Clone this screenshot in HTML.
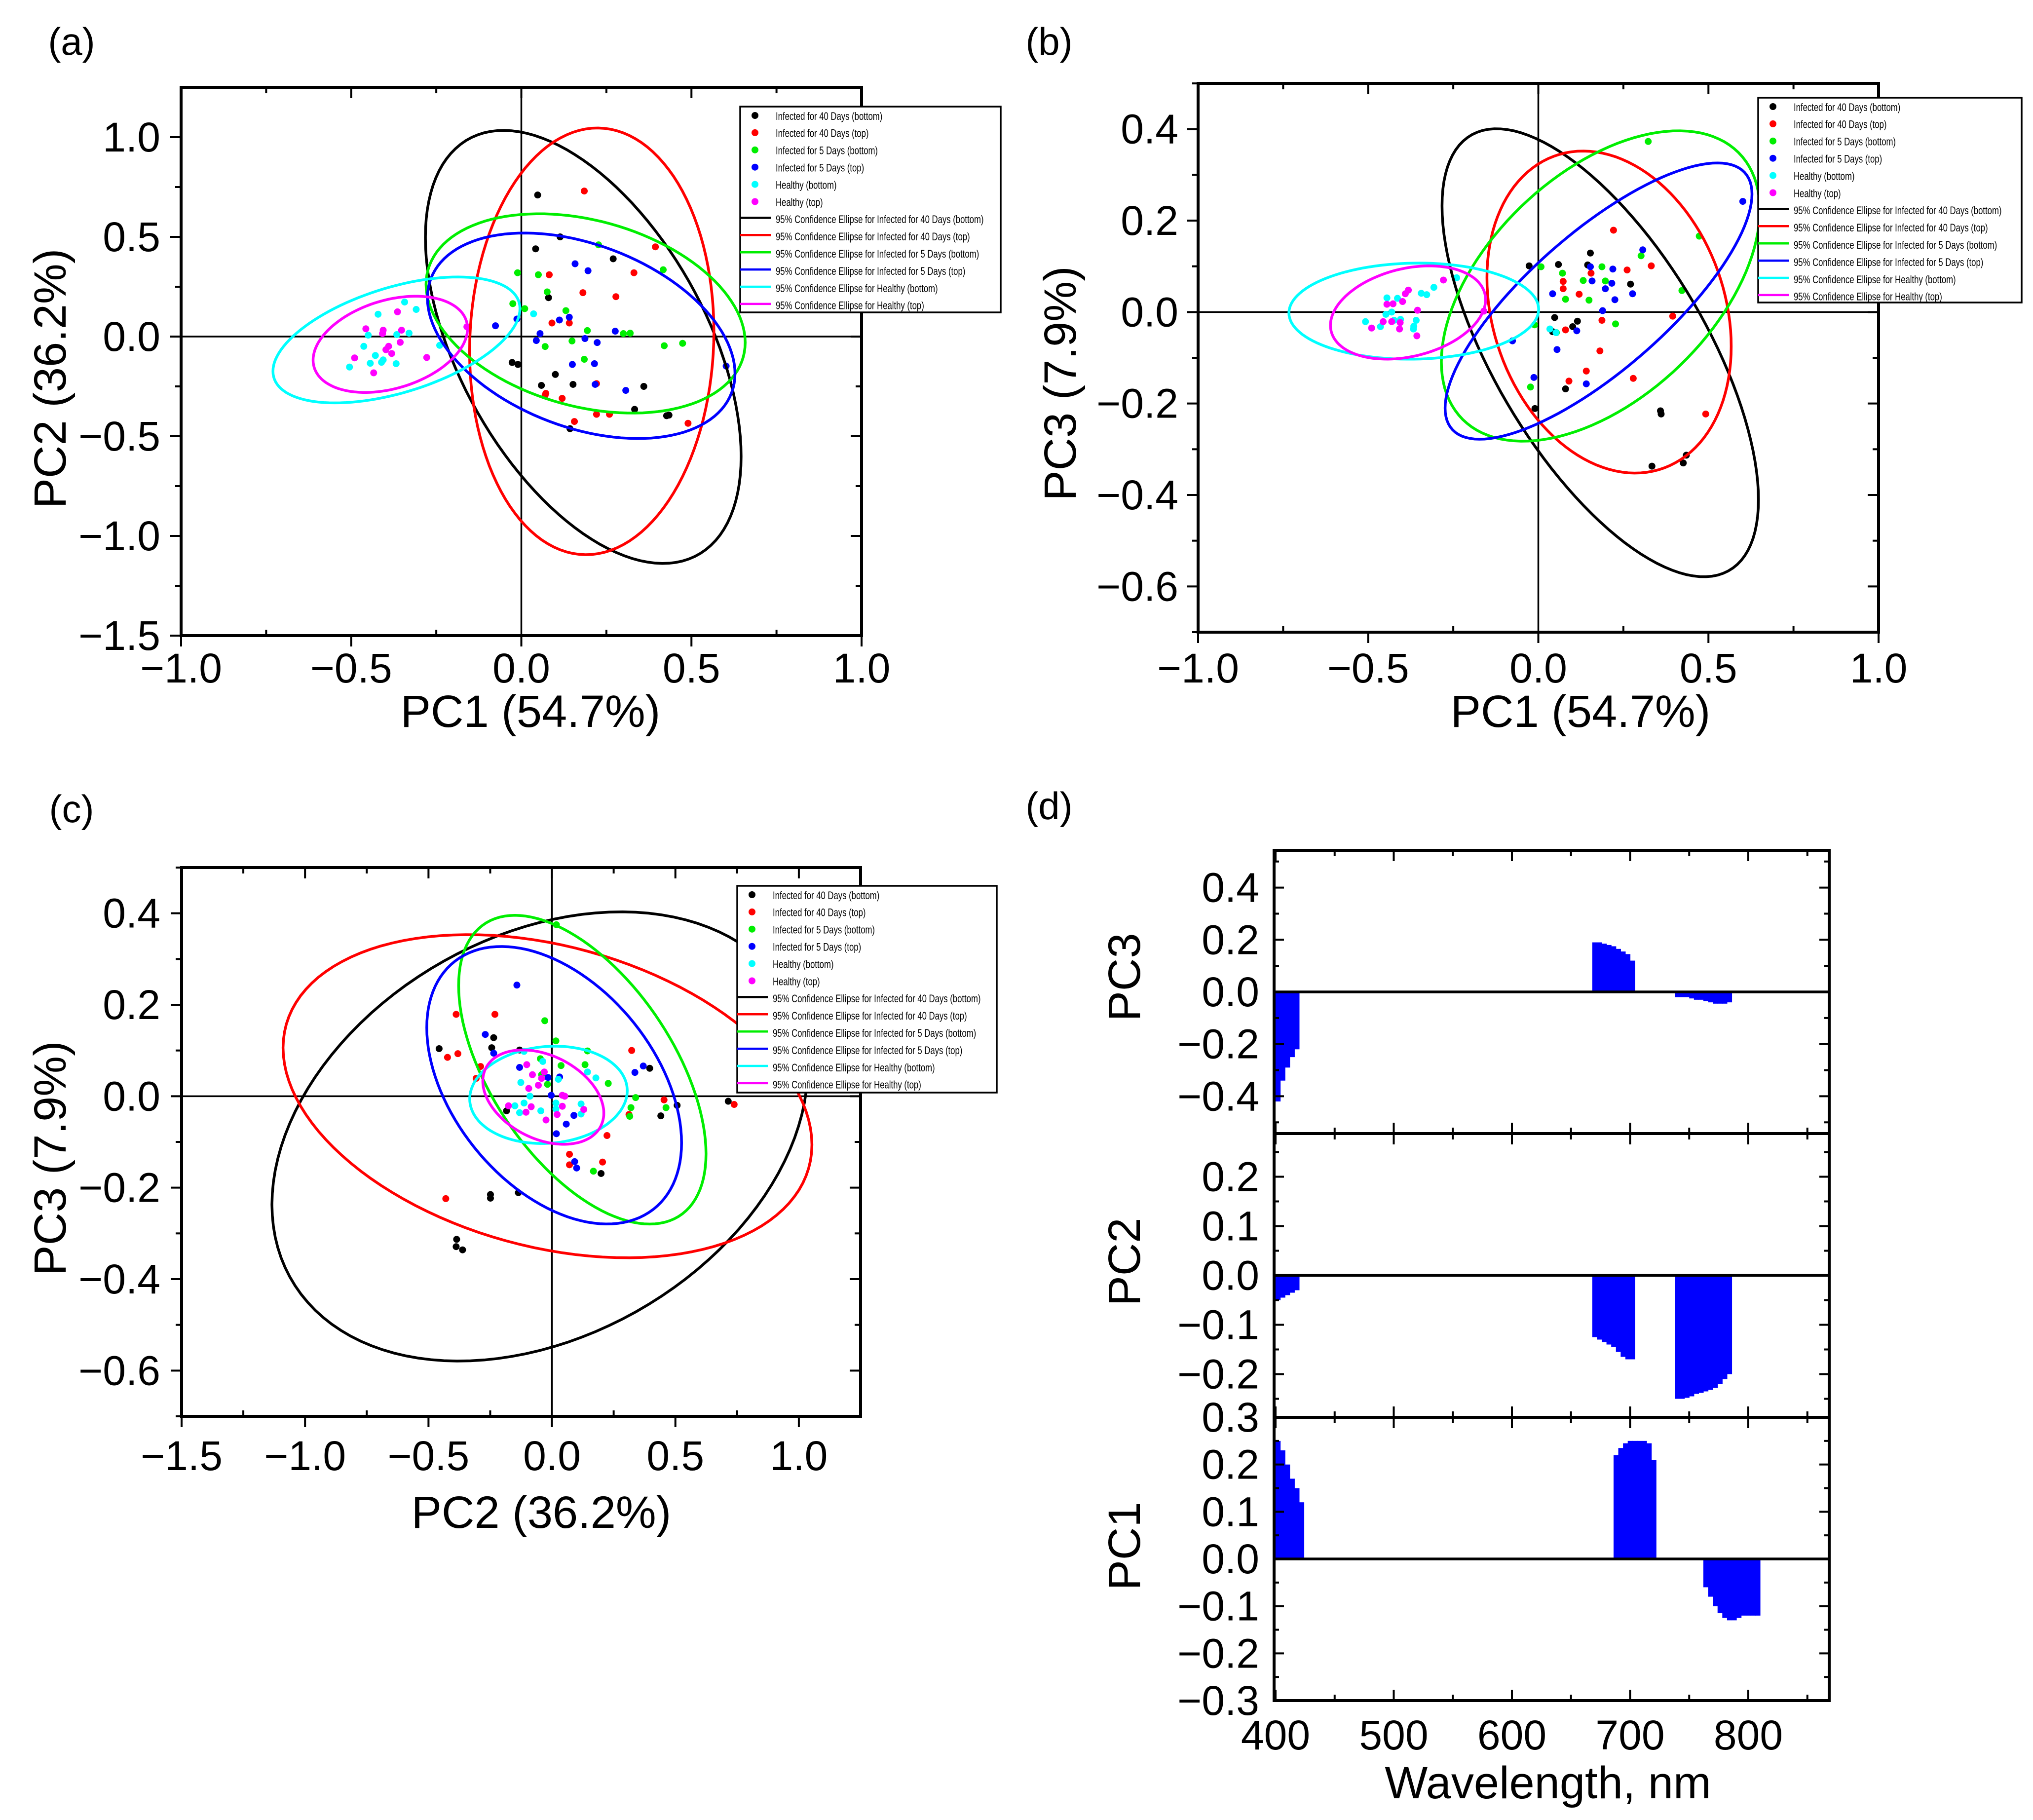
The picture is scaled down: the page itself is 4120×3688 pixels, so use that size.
<!DOCTYPE html>
<html><head><meta charset="utf-8"><title>PCA figure</title>
<style>
html,body{margin:0;padding:0;background:#fff;}
svg{display:block;font-family:"Liberation Sans",Arial,sans-serif;}
</style></head>
<body>
<svg id="fig" xmlns="http://www.w3.org/2000/svg" width="4120" height="3688" viewBox="0 0 4120 3688">
<rect x="0" y="0" width="4120" height="3688" fill="#fff"/>
</svg>
<script>
// ---------- Panel (a): PC1 vs PC2 ----------
const aX_k=[0.048,0.114,0.042,0.27,0.08,-0.027,-0.01,0.10,0.059,0.152,0.36,0.333,0.427,0.434,0.143];
const aY_k=[0.71,0.50,0.44,0.39,0.195,-0.13,-0.14,-0.19,-0.245,-0.24,-0.25,-0.365,-0.397,-0.394,-0.462];
const aX_r=[0.185,0.394,0.331,0.082,0.181,0.278,0.09,0.141,0.221,0.072,0.07,0.12,0.156,0.221,0.259,0.49];
const aY_r=[0.73,0.45,0.32,0.31,0.22,0.20,0.068,0.068,-0.236,-0.285,-0.294,-0.31,-0.426,-0.39,-0.39,-0.435];
const aX_g=[0.227,-0.011,0.05,0.417,0.076,-0.025,0.01,0.131,0.194,0.3,0.32,0.07,0.149,0.42,0.474,0.185];
const aY_g=[0.46,0.32,0.31,0.335,0.224,0.165,0.14,0.13,0.03,0.015,0.017,-0.05,-0.022,-0.046,-0.034,-0.114];
const aX_b=[0.158,0.196,0.112,0.141,-0.076,-0.013,0.055,0.276,0.044,0.187,0.223,0.15,0.215,0.217,0.307,0.602];
const aY_b=[0.365,0.33,0.083,0.097,0.054,0.088,0.015,0.027,-0.02,-0.01,-0.03,-0.14,-0.136,-0.24,-0.27,-0.148];
const aX_c=[-0.343,-0.421,-0.309,0.036,-0.45,-0.33,-0.366,-0.463,-0.24,-0.429,-0.406,-0.411,-0.444,-0.368,-0.505];
const aY_c=[0.173,0.112,0.136,0.114,0.007,0.017,0.01,-0.049,-0.044,-0.095,-0.117,-0.129,-0.134,-0.136,-0.153];
const aX_m=[-0.364,-0.457,-0.406,-0.352,-0.408,-0.356,-0.39,-0.398,-0.381,-0.278,-0.49,-0.434,-0.16];
const aY_m=[0.124,0.039,0.032,0.032,0.015,-0.029,-0.049,-0.066,-0.085,-0.105,-0.107,-0.182,0.049];
const aEllCx=[0.182,0.207,0.189,0.176,-0.367,-0.385];
const aEllCy=[-0.052,-0.024,0.116,0.004,-0.017,-0.039];
const aEllL11=[0.464,0.359,0.469,0.452,0.363,0.227];
const aEllL21=[-0.549,0.05,-0.146,-0.19,0.157,0.079];
const aEllL22=[0.937,1.069,0.478,0.479,0.274,0.228];

// ---------- Panel (b): PC1 vs PC3 ----------
const bX_k=[-0.027,0.059,0.145,0.153,0.271,0.048,0.042,0.101,0.115,0.08,-0.01,0.359,0.361,0.334,0.435,0.426];
const bY_k=[0.101,0.104,0.103,0.129,0.061,-0.012,-0.043,-0.032,-0.02,-0.168,-0.211,-0.216,-0.223,-0.337,-0.313,-0.33];
const bX_r=[0.221,0.261,0.332,0.155,0.073,0.073,0.12,0.395,0.187,0.08,0.181,0.141,0.09,0.279,0.492];
const bY_r=[0.179,0.092,0.101,0.085,0.067,0.051,0.039,-0.009,-0.018,-0.039,-0.085,-0.129,-0.151,-0.145,-0.223];
const bX_g=[0.323,0.473,0.302,0.008,0.071,0.187,0.132,0.197,0.08,0.149,0.422,-0.011,0.053,0.227,-0.023];
const bY_g=[0.373,0.166,0.123,0.099,0.085,0.099,0.069,0.068,0.028,0.026,0.047,-0.028,-0.045,-0.026,-0.164];
const bX_b=[0.601,0.307,0.219,0.153,0.158,0.216,0.197,0.277,0.042,0.225,0.189,0.113,-0.076,0.055,-0.013,0.141];
const bY_b=[0.242,0.136,0.094,0.099,0.068,0.063,0.051,0.04,0.04,0.027,0.003,-0.041,-0.063,-0.082,-0.143,-0.157];
const bX_c=[-0.24,-0.307,-0.344,-0.328,-0.445,-0.414,-0.431,-0.448,-0.405,-0.424,-0.359,-0.508,-0.464,-0.366,-0.367,0.034,0.052];
const bY_c=[0.075,0.054,0.041,0.038,0.031,0.03,0,-0.005,-0.016,-0.018,-0.018,-0.021,-0.032,-0.031,-0.037,-0.037,-0.045];
const bX_m=[-0.279,-0.382,-0.391,-0.399,-0.427,-0.445,-0.355,-0.16,-0.456,-0.431,-0.406,-0.408,-0.49,-0.357];
const bY_m=[0.07,0.048,0.04,0.023,0.018,0.017,0.004,0.002,-0.021,-0.021,-0.023,-0.037,-0.035,-0.052];
const bEllCx=[0.182,0.208,0.183,0.177,-0.366,-0.383];
const bEllCy=[-0.089,0.0,0.057,0.024,0.002,-0.001];
const bEllL11=[0.465,0.359,0.468,0.451,0.367,0.228];
const bEllL21=[-0.321,-0.075,0.166,0.234,0.004,0.028];
const bEllL22=[0.37,0.344,0.296,0.191,0.105,0.098];

// ---------- Panel (c): PC2 vs PC3 ----------
const cX_k=[-0.457,-0.236,-0.244,-0.131,-0.184,0.396,0.507,0.441,0.714,0.199,-0.136,-0.249,-0.249,-0.386,-0.388,-0.362];
const cY_k=[0.104,0.128,0.106,0.101,-0.032,0.061,-0.02,-0.043,-0.011,-0.169,-0.211,-0.215,-0.223,-0.313,-0.329,-0.336];
const cX_r=[-0.388,-0.231,-0.423,-0.381,-0.289,-0.307,0.323,0.454,0.312,0.738,0.223,0.071,0.071,0.205,-0.43];
const cY_r=[0.179,0.179,0.085,0.093,0.065,0.039,0.1,-0.008,-0.04,-0.018,-0.086,-0.127,-0.15,-0.144,-0.224];
const cX_g=[0.018,-0.029,0.016,0.144,0.037,0.134,-0.042,-0.018,0.228,0.339,0.32,0.462,0.315,0.168,-0.047];
const cY_g=[0.375,0.165,0.121,0.099,0.067,0.069,0.047,0.026,0.028,-0.003,-0.025,-0.025,-0.044,-0.164,0.082];
const cX_b=[-0.142,-0.27,-0.236,-0.131,-0.016,0.031,0.336,0.37,-0.003,0.089,0.058,0.018,0.092,0.1];
const cY_b=[0.243,0.135,0.094,0.063,0.041,0.042,0.052,0.066,0.002,-0.042,-0.061,-0.082,-0.143,-0.157];
const cX_c=[-0.113,-0.037,0.026,0.144,0.178,-0.126,-0.089,-0.15,-0.113,0.016,0.118,-0.131,-0.045,0.016,0.118];
const cY_c=[0.098,0.076,0.037,0.053,0.04,0.03,0,-0.021,-0.015,-0.015,-0.017,-0.036,-0.032,-0.028,-0.039];
const cX_m=[-0.102,-0.031,-0.079,-0.094,-0.055,-0.042,0.042,0.052,-0.176,-0.084,0.042,0.129,-0.105,0.021,-0.024];
const cY_m=[0.069,0.053,0.047,0.017,0.024,0.039,0.002,0,-0.021,-0.023,-0.022,-0.029,-0.035,-0.04,-0.052];
const cEllCx=[-0.049,-0.018,0.123,0.009,-0.014,-0.035];
const cEllCy=[-0.088,0.0,0.058,0.024,0.003,-0.002];
const cEllL11=[1.085,1.071,0.501,0.516,0.319,0.245];
const cEllL21=[0.149,-0.106,-0.184,-0.126,0.009,-0.035];
const cEllL22=[0.468,0.337,0.283,0.276,0.106,0.097];

// ---------- Panel (d): loadings ----------
const pc3Wl=[400,404,408,412,416, 668,672,676,680,684,688,692,696,700, 738,742,746,750,754,758,762,766,770,774,778,782];
const pc3Val=[-0.42,-0.34,-0.29,-0.25,-0.22, 0.19,0.19,0.185,0.18,0.175,0.165,0.155,0.145,0.12, -0.02,-0.02,-0.02,-0.025,-0.03,-0.03,-0.035,-0.04,-0.045,-0.045,-0.045,-0.04];
const pc2Wl=[400,404,408,412,416, 668,672,676,680,684,688,692,696,700, 738,742,746,750,754,758,762,766,770,774,778,782];
const pc2Val=[-0.05,-0.045,-0.04,-0.035,-0.03, -0.125,-0.13,-0.135,-0.14,-0.145,-0.155,-0.165,-0.17,-0.17, -0.25,-0.25,-0.248,-0.245,-0.24,-0.238,-0.235,-0.232,-0.228,-0.22,-0.21,-0.2];
const pc1Wl=[400,404,408,412,416,420, 686,690,694,698,702,706,710,714,718, 762,766,770,774,778,782,786,790,794,798,802,806];
const pc1Val=[0.25,0.23,0.2,0.17,0.15,0.12, 0.22,0.235,0.245,0.25,0.25,0.25,0.25,0.245,0.21, -0.06,-0.08,-0.1,-0.115,-0.125,-0.13,-0.13,-0.125,-0.12,-0.12,-0.12,-0.12];
const binWidth=4;

const groupColors=['#000000','#ff0000','#00ee00','#0000ff','#00ffff','#ff00ff'];
const legendLabels=['Infected for 40 Days (bottom)','Infected for 40 Days (top)','Infected for 5 Days (bottom)','Infected for 5 Days (top)','Healthy (bottom)','Healthy (top)',
'95% Confidence Ellipse for Infected for 40 Days (bottom)','95% Confidence Ellipse for Infected for 40 Days (top)','95% Confidence Ellipse for Infected for 5 Days (bottom)','95% Confidence Ellipse for Infected for 5 Days (top)','95% Confidence Ellipse for Healthy (bottom)','95% Confidence Ellipse for Healthy (top)'];
const groupKeys=['k','r','g','b','c','m'];

const NS='http://www.w3.org/2000/svg';
const svg=document.getElementById('fig');
function el(tag,attrs,parent){const e=document.createElementNS(NS,tag);for(const k in attrs)e.setAttribute(k,attrs[k]);(parent||svg).appendChild(e);return e;}
function fmt(v,d){const s=Math.abs(v).toFixed(d);return (v<-1e-9?'\u2212':'')+s;}

function scatterPanel(p){
  const g=el('g',{});
  
  
  const sx=v=>p.x0+(v-p.xmin)/(p.xmax-p.xmin)*(p.x1-p.x0);
  const sy=v=>p.y1-(v-p.ymin)/(p.ymax-p.ymin)*(p.y1-p.y0);
  const zx=el('line',{x1:sx(0),x2:sx(0),y1:p.y0,y2:p.y1,stroke:'#000','stroke-width':3.5},g);
  
  
  const zy=el('line',{x1:p.x0,x2:p.x1,y1:sy(0),y2:sy(0),stroke:'#000','stroke-width':3.5},g);
  
  
  for(let gi=0;gi<6;gi++){
    const xs=p.xs[gi],ys=p.ys[gi];
    for(let i=0;i<xs.length;i++){
      const c=el('circle',{cx:sx(xs[i]),cy:sy(ys[i]),r:7,fill:groupColors[gi]},g);
      
      
    }
  }
  for(let gi=0;gi<6;gi++){
    let d='';
    for(let k=0;k<=120;k++){
      const t=k/120*2*Math.PI;
      const vx=p.ecx[gi]+p.el11[gi]*Math.cos(t);
      const vy=p.ecy[gi]+p.el21[gi]*Math.cos(t)+p.el22[gi]*Math.sin(t);
      d+=(k?'L':'M')+sx(vx).toFixed(1)+','+sy(vy).toFixed(1);
    }
    const e=el('path',{d:d+'Z',fill:'none',stroke:groupColors[gi],'stroke-width':5.5},g);
    
    
  }
  const fr=el('rect',{x:p.x0,y:p.y0,width:p.x1-p.x0,height:p.y1-p.y0,fill:'none',stroke:'#000','stroke-width':6},g);
  
  
  const tk=(x1,y1,x2,y2)=>el('line',{x1,y1,x2,y2,stroke:'#000','stroke-width':4},g);
  p.xMaj.forEach(v=>{tk(sx(v),p.y1,sx(v),p.y1+22);tk(sx(v),p.y0,sx(v),p.y0+22);
    const t=el('text',{x:sx(v),y:p.xLabY,'font-size':84,'text-anchor':'middle','dominant-baseline':'central',fill:'#000'},g);
    t.textContent=fmt(v,1);
    
    });
  p.xMin.forEach(v=>{tk(sx(v),p.y1,sx(v),p.y1-12);tk(sx(v),p.y0,sx(v),p.y0+12);});
  p.yMaj.forEach(v=>{tk(p.x0-22,sy(v),p.x0,sy(v));tk(p.x1,sy(v),p.x1-22,sy(v));
    const t=el('text',{x:p.yLabX,y:sy(v),'font-size':84,'text-anchor':'end','dominant-baseline':'central',fill:'#000'},g);
    t.textContent=fmt(v,1);
    
    });
  p.yMin.forEach(v=>{tk(p.x0-12,sy(v),p.x0,sy(v));tk(p.x1,sy(v),p.x1-12,sy(v));});
  const xt=el('text',{x:p.xtX,y:p.xtY,'font-size':92,'text-anchor':'middle','dominant-baseline':'central'},g);
  xt.textContent=p.xTitle;
  
  
  const yt=el('text',{x:0,y:0,'font-size':92,'text-anchor':'middle','dominant-baseline':'central',transform:'translate('+p.ytX+','+p.ytY+') rotate(-90)'},g);
  yt.textContent=p.yTitle;
  
  
  const pl=el('text',{x:p.plX,y:p.plY,'font-size':78,'text-anchor':'middle','dominant-baseline':'central'},g);
  pl.textContent=p.panel;
  
  
  const lg=el('g',{},g);
  
  
  el('rect',{x:p.lx,y:p.ly,width:p.lw,height:p.lh,fill:'#fff',stroke:'#000','stroke-width':3.5},lg);
  for(let i=0;i<12;i++){
    const yy=p.ly+20+i*34.9;
    const entry=el('g',{},lg);
    
    
    const ci=i%6;
    if(i<6){el('circle',{cx:p.lx+30,cy:yy-2,r:7,fill:groupColors[ci]},entry);}
    else{el('line',{x1:p.lx,x2:p.lx+62,y1:yy-4,y2:yy-4,stroke:groupColors[ci],'stroke-width':4.5},entry);}
    const t=el('text',{x:0,y:0,'font-size':22,'dominant-baseline':'central',fill:'#000',transform:'translate('+(p.lx+72)+','+yy+') scale(0.76,1)'},entry);
    t.textContent=legendLabels[i];
  }
}

scatterPanel({name:'panel-a-pc1-pc2',panel:'(a)',x0:367,x1:1746,y0:177,y1:1288,xmin:-1,xmax:1,ymin:-1.5,ymax:1.25,
  xs:[aX_k,aX_r,aX_g,aX_b,aX_c,aX_m],ys:[aY_k,aY_r,aY_g,aY_b,aY_c,aY_m],
  ecx:aEllCx,ecy:aEllCy,el11:aEllL11,el21:aEllL21,el22:aEllL22,
  xMaj:[-1,-0.5,0,0.5,1],xMin:[-0.75,-0.25,0.25,0.75],yMaj:[-1.5,-1,-0.5,0,0.5,1],yMin:[-1.25,-0.75,-0.25,0.25,0.75],
  xLabY:1354,yLabX:325,xTitle:'PC1 (54.7%)',yTitle:'PC2 (36.2%)',xtX:1075,xtY:1442,ytX:102,ytY:767,plX:145,plY:84,
  lx:1500,ly:216,lw:528,lh:417});
scatterPanel({name:'panel-b-pc1-pc3',panel:'(b)',x0:2428,x1:3807,y0:169,y1:1281,xmin:-1,xmax:1,ymin:-0.7,ymax:0.5,
  xs:[bX_k,bX_r,bX_g,bX_b,bX_c,bX_m],ys:[bY_k,bY_r,bY_g,bY_b,bY_c,bY_m],
  ecx:bEllCx,ecy:bEllCy,el11:bEllL11,el21:bEllL21,el22:bEllL22,
  xMaj:[-1,-0.5,0,0.5,1],xMin:[-0.75,-0.25,0.25,0.75],yMaj:[-0.6,-0.4,-0.2,0,0.2,0.4],yMin:[-0.7,-0.5,-0.3,-0.1,0.1,0.3,0.5],
  xLabY:1354,yLabX:2388,xTitle:'PC1 (54.7%)',yTitle:'PC3 (7.9%)',xtX:3203,xtY:1442,ytX:2149,ytY:777,plX:2126,plY:84,
  lx:3563,ly:198,lw:534,lh:415});
scatterPanel({name:'panel-c-pc2-pc3',panel:'(c)',x0:368,x1:1744,y0:1758,y1:2870,xmin:-1.5,xmax:1.25,ymin:-0.7,ymax:0.5,
  xs:[cX_k,cX_r,cX_g,cX_b,cX_c,cX_m],ys:[cY_k,cY_r,cY_g,cY_b,cY_c,cY_m],
  ecx:cEllCx,ecy:cEllCy,el11:cEllL11,el21:cEllL21,el22:cEllL22,
  xMaj:[-1.5,-1,-0.5,0,0.5,1],xMin:[-1.25,-0.75,-0.25,0.25,0.75],yMaj:[-0.6,-0.4,-0.2,0,0.2,0.4],yMin:[-0.7,-0.5,-0.3,-0.1,0.1,0.3,0.5],
  xLabY:2950,yLabX:325,xTitle:'PC2 (36.2%)',yTitle:'PC3 (7.9%)',xtX:1097,xtY:3065,ytX:102,ytY:2347,plX:145,plY:1639,
  lx:1494,ly:1795,lw:526,lh:419});

(function(){
  const g=el('g',{});
  
  
  const X0=2582,X1=3707;
  const wx=w=>2585+(w-400)*2.395;
  const subs=[
    {name:'pc3-loadings',title:'PC3',wl:pc3Wl,val:pc3Val,y0:1723,y1:2297,lim:0.543,maj:[-0.4,-0.2,0,0.2,0.4],min:[-0.5,-0.3,-0.1,0.1,0.3,0.5],dec:1,ty:1980},
    {name:'pc2-loadings',title:'PC2',wl:pc2Wl,val:pc2Val,y0:2297,y1:2872,lim:0.2875,maj:[-0.2,-0.1,0,0.1,0.2],min:[-0.25,-0.15,-0.05,0.05,0.15,0.25],dec:1,ty:2557},
    {name:'pc1-loadings',title:'PC1',wl:pc1Wl,val:pc1Val,y0:2872,y1:3446,lim:0.3,maj:[-0.3,-0.2,-0.1,0,0.1,0.2,0.3],min:[-0.25,-0.15,-0.05,0.05,0.15,0.25],dec:1,ty:3133}
  ];
  subs.forEach(s=>{
    const sg=el('g',{},g);
    
    
    const sy=v=>(s.y0+s.y1)/2-v/s.lim*(s.y1-s.y0)/2;
    for(let i=0;i<s.wl.length;i++){
      const xa=wx(s.wl[i]),xb=wx(s.wl[i]+binWidth)+0.6;
      const ya=sy(0),yb=sy(s.val[i]);
      const r=el('rect',{x:xa,y:Math.min(ya,yb),width:xb-xa,height:Math.abs(yb-ya),fill:'#0000ff'},sg);
      
      
    }
    el('line',{x1:X0,x2:X1,y1:sy(0),y2:sy(0),stroke:'#000','stroke-width':5.5},sg);
    el('rect',{x:X0,y:s.y0,width:X1-X0,height:s.y1-s.y0,fill:'none',stroke:'#000','stroke-width':6},sg);
    const tk=(x1,y1,x2,y2)=>el('line',{x1,y1,x2,y2,stroke:'#000','stroke-width':4},sg);
    s.maj.forEach(v=>{tk(X0,sy(v),X0+20,sy(v));tk(X1,sy(v),X1-20,sy(v));
      const t=el('text',{x:2552,y:sy(v),'font-size':84,'text-anchor':'end','dominant-baseline':'central'},sg);
      t.textContent=fmt(v,s.dec);
      
      });
    s.min.forEach(v=>{if(Math.abs(v)<s.lim){tk(X0,sy(v),X0+10,sy(v));tk(X1,sy(v),X1-10,sy(v));}});
    [400,500,600,700,800].forEach(w=>{tk(wx(w),s.y0,wx(w),s.y0+22);tk(wx(w),s.y1,wx(w),s.y1-22);});
    [450,550,650,750,850].forEach(w=>{tk(wx(w),s.y0,wx(w),s.y0+12);tk(wx(w),s.y1,wx(w),s.y1-12);});
    const yt=el('text',{x:0,y:0,'font-size':92,'text-anchor':'middle','dominant-baseline':'central',transform:'translate(2279,'+s.ty+') rotate(-90)'},sg);
    yt.textContent=s.title;
    
    
  });
  [400,500,600,700,800].forEach(w=>{
    const t=el('text',{x:wx(w),y:3516,'font-size':84,'text-anchor':'middle','dominant-baseline':'central'},g);
    t.textContent=String(w);
    
    
  });
  const xt=el('text',{x:3137,y:3613,'font-size':92,'text-anchor':'middle','dominant-baseline':'central'},g);
  xt.textContent='Wavelength, nm';
  
  
  const pl=el('text',{x:2126,y:1633,'font-size':78,'text-anchor':'middle','dominant-baseline':'central'},g);
  pl.textContent='(d)';
  
  
})();
</script>
</body></html>
